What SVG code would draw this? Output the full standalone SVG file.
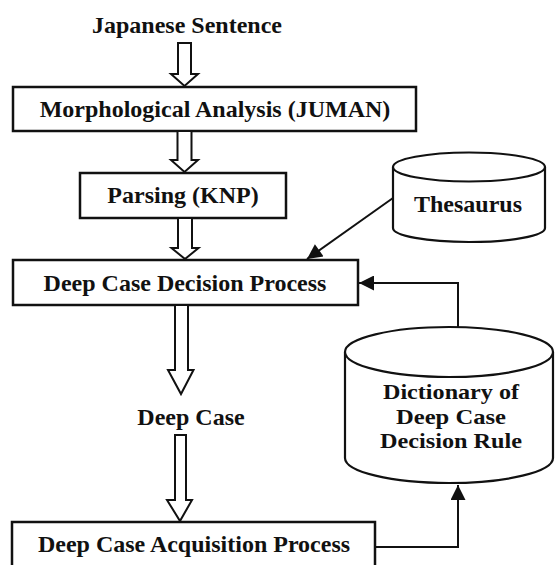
<svg xmlns="http://www.w3.org/2000/svg" width="556" height="565" viewBox="0 0 556 565">
<style>
  .t { font-family: "Liberation Serif", "Times New Roman", serif; font-weight: bold; font-size: 24px; fill: #111; text-anchor: middle; }
  .d { font-size: 22px; }
  .box { fill: #fff; stroke: #111; stroke-width: 2.5; }
  .cyl { fill: #fff; stroke: #111; stroke-width: 2.2; }
  .hollow { fill: #fff; stroke: #111; stroke-width: 2; stroke-linejoin: miter; }
  .line { fill: none; stroke: #111; stroke-width: 2; }
</style>
<defs>
  <marker id="ah" viewBox="0 0 10 10" refX="10" refY="5" markerWidth="17" markerHeight="15" markerUnits="userSpaceOnUse" orient="auto">
    <path d="M0,0 L10,5 L0,10 Z" fill="#111"/>
  </marker>
</defs>
<rect width="556" height="565" fill="#fff"/>

<g id="japanese-sentence">
  <text class="t" x="187" y="33">Japanese Sentence</text>
</g>

<g id="morphological-analysis">
  <rect class="box" x="13" y="87" width="403" height="44"/>
  <text class="t" x="215" y="117">Morphological Analysis (JUMAN)</text>
</g>

<g id="parsing">
  <rect class="box" x="80" y="173" width="206" height="45"/>
  <text class="t" x="183" y="203">Parsing (KNP)</text>
</g>

<g id="thesaurus">
  <path class="cyl" d="M393,167 V228 A76,14 0 0 0 545,228 V167"/>
  <ellipse class="cyl" cx="469" cy="167" rx="76" ry="14.5"/>
  <text class="t" x="468" y="212">Thesaurus</text>
</g>

<g id="deep-case-decision-process">
  <rect class="box" x="13" y="260" width="345" height="45"/>
  <text class="t" x="185" y="291">Deep Case Decision Process</text>
</g>

<g id="deep-case">
  <text class="t" x="191" y="425">Deep Case</text>
</g>

<g id="dictionary">
  <path class="cyl" d="M345,352 V458 A104,25 0 0 0 553,458 V352"/>
  <ellipse class="cyl" cx="449" cy="352" rx="104" ry="25"/>
  <text class="t d" x="451" y="399" textLength="136" lengthAdjust="spacingAndGlyphs">Dictionary of</text>
  <text class="t d" x="451" y="423.5" textLength="110" lengthAdjust="spacingAndGlyphs">Deep Case</text>
  <text class="t d" x="451" y="448" textLength="142" lengthAdjust="spacingAndGlyphs">Decision Rule</text>
</g>

<g id="deep-case-acquisition-process">
  <rect class="box" x="12" y="522" width="363" height="50"/>
  <text class="t" x="194" y="552">Deep Case Acquisition Process</text>
</g>

<g id="connectors">
  <polygon class="hollow" points="178,43 191,43 191,74 198,74 184.5,86 171,74 178,74"/>
  <polygon class="hollow" points="177.5,131 191.5,131 191.5,160 198,160 184.5,172 171,160 177.5,160"/>
  <polygon class="hollow" points="178,218 192,218 192,248 198.5,248 185,259 171.5,248 178,248"/>
  <polygon class="hollow" points="175,305 188,305 188,370 193.5,370 181,394 168,370 175,370"/>
  <polygon class="hollow" points="175,435 186,435 186,500 192,500 180,521 167,500 175,500"/>
  <line class="line" x1="393" y1="198" x2="307" y2="259" marker-end="url(#ah)"/>
  <polyline class="line" points="458,327 458,283 359,283" marker-end="url(#ah)"/>
  <polyline class="line" points="375,547 458,547 458,485" marker-end="url(#ah)"/>
</g>
</svg>
